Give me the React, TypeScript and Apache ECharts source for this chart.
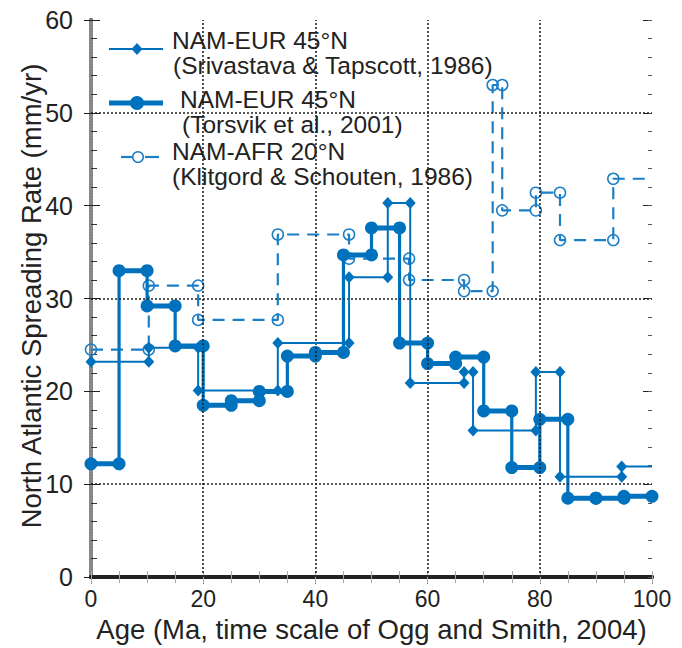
import React, { useEffect, useRef } from "react";
import * as echarts from "echarts";

// Torsvik et al., 2001 (NAM-EUR 45°N) – step boundaries (Ma) and rates (mm/yr)
const torsvikAges = [0, 5, 10, 15, 20, 25, 30, 35, 40, 45, 50, 55, 60, 65, 70, 75, 80, 85, 90, 95, 100];
const torsvikRates = [12.2, 33.0, 29.2, 24.9, 18.5, 19.0, 20.0, 23.8, 24.2, 34.7, 37.6, 25.2, 23.0, 23.7, 17.9, 11.8, 17.0, 8.5, 8.5, 8.7];

// Srivastava & Tapscott, 1986 (NAM-EUR 45°N)
const srivastavaAges = [0, 10.3, 19.1, 33.3, 46.0, 52.9, 56.9, 66.5, 68.1, 79.3, 83.6, 94.6, 100];
const srivastavaRates = [23.2, 24.7, 20.1, 25.2, 32.3, 40.3, 20.9, 22.1, 15.8, 22.1, 10.8, 11.9];

// Klitgord & Schouten, 1986 (NAM-AFR 20°N)
const klitgordAges = [0, 10.3, 19.1, 33.3, 46.0, 56.7, 66.5, 71.6, 73.3, 79.3, 83.6, 93.1, 100];
const klitgordRates = [24.5, 31.4, 27.7, 36.9, 34.3, 32.0, 30.8, 53.0, 39.5, 41.4, 36.3, 42.9];

// dotted reference lines
const gridAges = [20, 40, 60, 80];
const gridRates = [10, 30, 50];

const FONT = '"Liberation Sans", Arial, Helvetica, sans-serif';
const BLUE = "#0072BD";
const BLUE2 = "#1a7fc6";

function steps(ages: number[], rates: number[], markLast: boolean) {
  const pts: any[] = [];
  for (let i = 0; i < rates.length; i++) {
    pts.push({ value: [ages[i], rates[i]] });
    const last = i === rates.length - 1;
    const item: any = { value: [ages[i + 1], rates[i]] };
    if (last && !markLast) item.symbol = "none";
    pts.push(item);
  }
  return pts;
}

// horizontal pieces only, separated by gaps
function flats(ages: number[], rates: number[]) {
  const pts: any[] = [];
  for (let i = 0; i < rates.length; i++) {
    if (i > 0) pts.push({ value: [ages[i], "-"] });
    pts.push({ value: [ages[i], rates[i]] });
    pts.push({ value: [ages[i + 1], rates[i]] });
  }
  return pts;
}

// vertical risers only, separated by gaps
function risers(ages: number[], rates: number[]) {
  const pts: any[] = [];
  for (let i = 1; i < rates.length; i++) {
    if (i > 1) pts.push({ value: [ages[i], "-"] });
    pts.push({ value: [ages[i], rates[i - 1]] });
    pts.push({ value: [ages[i], rates[i]] });
  }
  return pts;
}

export default function App() {
  const ref = useRef<HTMLDivElement>(null);
  useEffect(() => {
    if (!ref.current) return;
    const chart = echarts.init(ref.current, undefined, { renderer: "svg" });
    const xBase = { type: "value", min: 0, max: 100, splitLine: { show: false } };
    const yBase = { type: "value", min: 0, max: 60, splitLine: { show: false } };
    const legendText = (text: string, x: number, y: number) => ({
      type: "text",
      style: { text, x, y, fontSize: 24.5, fontFamily: FONT, fill: "#222", verticalAlign: "middle" },
    });
    const option: any = {
      animation: false,
      backgroundColor: "#fff",
      grid: { left: 91, right: 30, top: 20, bottom: 69 },
      xAxis: [
        {
          ...xBase,
          position: "bottom",
          interval: 20,
          axisLine: { show: true, lineStyle: { color: "#222", width: 4 } },
          axisTick: { show: true, inside: false, length: 7, lineStyle: { color: "#888", width: 1 } },
          axisLabel: { fontSize: 23, color: "#222", fontFamily: FONT, margin: 10 },
          name: "Age (Ma, time scale of Ogg and Smith, 2004)",
          nameLocation: "middle",
          nameGap: 37,
          nameTextStyle: { fontSize: 27.5, color: "#222", fontFamily: FONT },
        },
        {
          ...xBase,
          position: "bottom",
          interval: 5,
          axisLine: { show: false },
          axisTick: { show: true, inside: true, length: 6, lineStyle: { color: "#aaa", width: 1 } },
          axisLabel: { show: false },
        },
        {
          ...xBase,
          position: "top",
          interval: 5,
          axisLine: { show: true, lineStyle: { color: "#222", width: 4 } },
          axisTick: { show: true, inside: true, length: 6, lineStyle: { color: "#aaa", width: 1 } },
          axisLabel: { show: false },
        },
      ],
      yAxis: [
        {
          ...yBase,
          position: "left",
          interval: 10,
          axisLine: { show: true, lineStyle: { color: "#222", width: 4 } },
          axisTick: { show: true, inside: false, length: 7, lineStyle: { color: "#222", width: 1 } },
          axisLabel: { fontSize: 25, color: "#222", fontFamily: FONT, margin: 18 },
        },
        {
          ...yBase,
          position: "left",
          interval: 2,
          axisLine: { show: false },
          axisTick: { show: true, inside: true, length: 6, lineStyle: { color: "#333", width: 1 } },
          axisLabel: { show: false },
        },
        {
          ...yBase,
          position: "right",
          interval: 10,
          axisLine: { show: true, lineStyle: { color: "#8a8a8a", width: 4, type: [2, 1] } },
          axisTick: { show: true, inside: false, length: 9, lineStyle: { color: "#222", width: 1 } },
          axisLabel: { show: false },
        },
        {
          ...yBase,
          position: "right",
          interval: 10,
          axisLine: { show: false },
          axisTick: { show: true, inside: true, length: 9, lineStyle: { color: "#222", width: 1 } },
          axisLabel: { show: false },
        },
        {
          ...yBase,
          position: "right",
          interval: 2,
          axisLine: { show: false },
          axisTick: { show: true, inside: true, length: 4, lineStyle: { color: "#555", width: 1 } },
          axisLabel: { show: false },
        },
      ],
      series: [
        {
          type: "line",
          name: "grid",
          data: [],
          z: 1,
          markLine: {
            silent: true,
            symbol: ["none", "none"],
            label: { show: false },
            lineStyle: { type: [2, 2], color: "#222", width: 1.6 },
            data: [
              ...gridAges.map((a) => ({ xAxis: a })),
              ...gridRates.map((r) => ({ yAxis: r })),
            ],
          },
        },
        {
          type: "line",
          name: "NAM-AFR 20°N (Klitgord & Schouten, 1986)",
          data: steps(klitgordAges, klitgordRates, false),
          z: 3,
          lineStyle: { color: BLUE2, width: 2.2, type: [12, 8] },
          symbol: "circle",
          symbolSize: 11,
          itemStyle: { color: "rgba(0,0,0,0)", borderColor: BLUE2, borderWidth: 1.5 },
        },
        {
          type: "line",
          name: "NAM-EUR 45°N (Torsvik et al., 2001) risers",
          data: risers(torsvikAges, torsvikRates),
          z: 4,
          connectNulls: false,
          lineStyle: { color: BLUE, width: 3.2 },
          symbol: "none",
        },
        {
          type: "line",
          name: "NAM-EUR 45°N (Torsvik et al., 2001)",
          data: flats(torsvikAges, torsvikRates),
          z: 4,
          connectNulls: false,
          lineStyle: { color: BLUE, width: 5 },
          symbol: "circle",
          symbolSize: 13,
          itemStyle: { color: BLUE },
        },
        {
          type: "line",
          name: "NAM-EUR 45°N (Srivastava & Tapscott, 1986)",
          data: steps(srivastavaAges, srivastavaRates, false),
          z: 5,
          lineStyle: { color: BLUE, width: 2 },
          symbol: "diamond",
          symbolSize: [11, 12],
          itemStyle: { color: BLUE },
        },
      ],
      graphic: [
        {
          type: "text",
          x: 31,
          y: 296,
          rotation: Math.PI / 2,
          style: {
            text: "North Atlantic Spreading Rate (mm/yr)",
            fontSize: 27.5,
            fontFamily: FONT,
            fill: "#222",
            align: "center",
            verticalAlign: "middle",
          },
        },
        {
          type: "group",
          z: 20,
          children: [
            { type: "rect", shape: { x: 95, y: 25, width: 392, height: 174 }, style: { fill: "#fff" } },
            { type: "line", shape: { x1: 109, y1: 49, x2: 163, y2: 49 }, style: { stroke: BLUE, lineWidth: 2 } },
            { type: "polygon", shape: { points: [[137, 43], [142.5, 49], [137, 55], [131.5, 49]] }, style: { fill: BLUE } },
            { type: "line", shape: { x1: 109, y1: 103, x2: 163, y2: 103 }, style: { stroke: BLUE, lineWidth: 5 } },
            { type: "circle", shape: { cx: 137, cy: 103, r: 7 }, style: { fill: BLUE } },
            { type: "line", shape: { x1: 121, y1: 157, x2: 132, y2: 157 }, style: { stroke: BLUE2, lineWidth: 2.2 } },
            { type: "line", shape: { x1: 145, y1: 157, x2: 159, y2: 157 }, style: { stroke: BLUE2, lineWidth: 2.2 } },
            { type: "circle", shape: { cx: 138, cy: 157, r: 5.3 }, style: { fill: "#fff", stroke: BLUE2, lineWidth: 1.5 } },
            legendText("NAM-EUR 45°N", 172, 40),
            legendText("(Srivastava & Tapscott, 1986)", 173, 65),
            legendText("NAM-EUR 45°N", 180, 99),
            legendText("(Torsvik et al., 2001)", 182, 124),
            legendText("NAM-AFR 20°N", 172, 151),
            legendText("(Klitgord & Schouten, 1986)", 172, 176),
          ],
        },
      ],
    };
    chart.setOption(option);
    return () => chart.dispose();
  }, []);
  return (
    <div
      ref={ref}
      style={{ position: "absolute", left: 0, top: 0, width: 682, height: 648, background: "#fff" }}
    />
  );
}
